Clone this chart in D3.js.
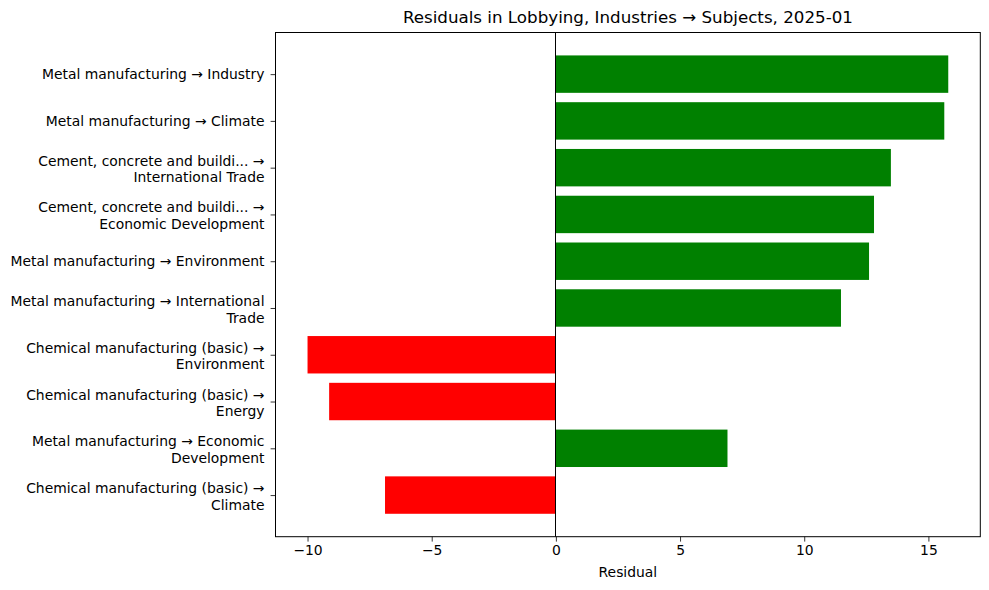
<!DOCTYPE html>
<html>
<head>
<meta charset="utf-8">
<script src="https://cdn.jsdelivr.net/npm/d3@7"></script>
<style>
  body { margin: 0; background: #fff; }
  text { font-family: "DejaVu Sans", sans-serif; fill: #000; }
</style>
</head>
<body>
<svg id="chart" width="989" height="590"></svg>
<script>
const categories = [
  ["Metal manufacturing \u2192 Industry"],
  ["Metal manufacturing \u2192 Climate"],
  ["Cement, concrete and buildi... \u2192", "International Trade"],
  ["Cement, concrete and buildi... \u2192", "Economic Development"],
  ["Metal manufacturing \u2192 Environment"],
  ["Metal manufacturing \u2192 International", "Trade"],
  ["Chemical manufacturing (basic) \u2192", "Environment"],
  ["Chemical manufacturing (basic) \u2192", "Energy"],
  ["Metal manufacturing \u2192 Economic", "Development"],
  ["Chemical manufacturing (basic) \u2192", "Climate"]
];
const residuals = [15.80, 15.64, 13.49, 12.81, 12.61, 11.48, -10.0, -9.13, 6.91, -6.88];
const xTicks = [-10, -5, 0, 5, 10, 15];
const tickLabels = ["\u221210", "\u22125", "0", "5", "10", "15"];
const title = "Residuals in Lobbying, Industries \u2192 Subjects, 2025-01";
const xLabel = "Residual";

(function () {
const svg = d3.select("#chart");
const mLeft = 275.5, mRight = 980.3, mTop = 32.5, mBottom = 536.7;

const minV = d3.min(residuals), maxV = d3.max(residuals);
const pad = (maxV - minV) * 0.05;
const x = d3.scaleLinear().domain([minV - pad, maxV + pad]).range([mLeft, mRight]);

const n = residuals.length;
const yPad = (n - 1 + 0.8) * 0.05;
const y = d3.scaleLinear().domain([-0.4 - yPad, n - 1 + 0.4 + yPad]).range([mTop, mBottom]);
const bh = Math.abs(y(0.8) - y(0));

const g = svg.append("g");
g.selectAll("rect.bar").data(residuals).enter().append("rect")
  .attr("class", "bar")
  .attr("x", d => x(Math.min(0, d)))
  .attr("width", d => Math.abs(x(d) - x(0)))
  .attr("y", (d, i) => y(i - 0.4))
  .attr("height", bh)
  .attr("fill", d => d >= 0 ? "green" : "red");

const x0 = Math.floor(x(0)) + 0.5;
g.append("line")
  .attr("x1", x0).attr("x2", x0).attr("y1", mTop).attr("y2", mBottom)
  .attr("stroke", "#000").attr("stroke-width", 1);

g.append("rect").attr("x", mLeft).attr("y", mTop)
  .attr("width", mRight - mLeft).attr("height", mBottom - mTop)
  .attr("fill", "none").attr("stroke", "#000").attr("stroke-width", 1);

const xAxis = d3.axisBottom(x).tickValues(xTicks)
  .tickFormat((d, i) => tickLabels[i]).tickSizeOuter(0).tickSizeInner(4.9).tickPadding(3.5);
const xg = svg.append("g").attr("transform", `translate(0,${mBottom})`).call(xAxis);
xg.select(".domain").remove();
xg.selectAll(".tick line").attr("stroke", "#000").attr("stroke-width", 0.8);
xg.selectAll(".tick text").attr("font-size", "13.9px").attr("font-family", "DejaVu Sans").attr("fill", "#000");

const yAxis = d3.axisLeft(y).tickValues(d3.range(n)).tickFormat("").tickSizeOuter(0).tickSizeInner(4.9);
const yg = svg.append("g").attr("transform", `translate(${mLeft},0)`).call(yAxis);
yg.select(".domain").remove();
yg.selectAll(".tick line").attr("stroke", "#000").attr("stroke-width", 0.8);

const lh = 16.7;
categories.forEach((lines, i) => {
  const cy = y(i);
  const t = svg.append("text")
    .attr("text-anchor", "end")
    .attr("font-size", "13.9px");
  const startY = cy - (lines.length - 1) * lh / 2 + (lines.length > 1 ? 1.5 : 0);
  lines.forEach((ln, j) => {
    t.append("tspan").attr("x", mLeft - 11).attr("y", startY + j * lh)
      .attr("dy", "0.35em").text(ln);
  });
});

svg.append("text").attr("x", (mLeft + mRight) / 2).attr("y", 23)
  .attr("text-anchor", "middle").attr("font-size", "16.7px").text(title);

svg.append("text").attr("x", (mLeft + mRight) / 2).attr("y", 577)
  .attr("text-anchor", "middle").attr("font-size", "13.9px").text(xLabel);
})();
</script>
</body>
</html>
